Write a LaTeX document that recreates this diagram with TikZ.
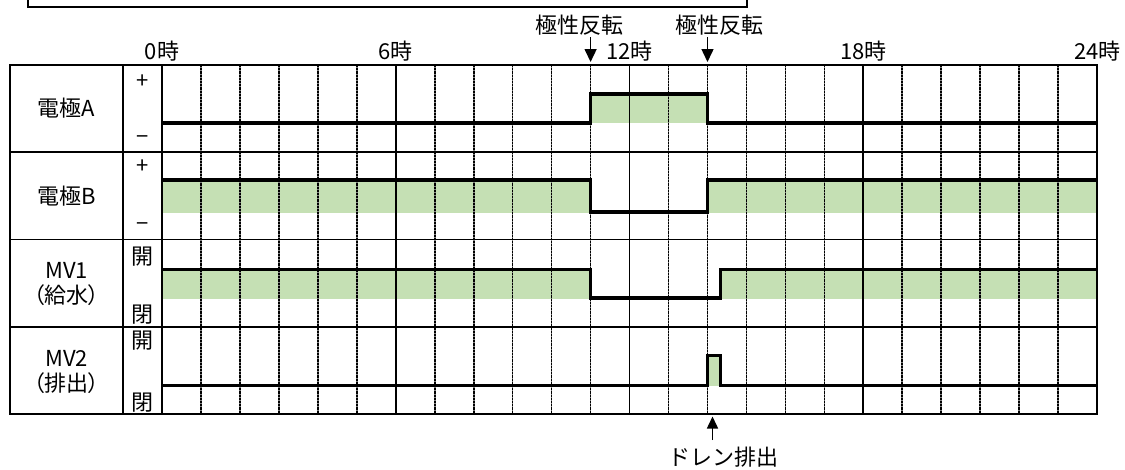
\documentclass[tikz,border=0pt]{standalone}
\usepackage{fontspec}
\setmainfont{Noto Sans CJK JP}
\newfontfamily\jpp[RawFeature=+palt]{Noto Sans CJK JP}
\usetikzlibrary{arrows.meta}
\definecolor{onfill}{HTML}{C5E0B4}
\begin{document}
\begin{tikzpicture}[x=1pt,y=-1pt,
  txt/.style={font=\fontsize{22}{25}\selectfont, inner sep=0pt, align=center},
  frame/.style={line width=1.8pt, line cap=rect},
  sig/.style={line width=3.6pt, line join=miter, line cap=butt},
  hourdash/.style={line width=1.7pt, dash pattern=on 2.2pt off 1pt},
  hourbase/.style={line width=1.7pt, black!50},
  hoursolid/.style={line width=1.8pt},
  onarea/.style={fill=onfill, draw=none},
  callout/.style={line width=1.5pt, -{Triangle[width=12pt,length=13pt]}},
]
\useasboundingbox (0,0) rectangle (1125,469);

% top box (partially visible)
\draw[line width=1.5pt] (28,-5) |- (747,7) -- (747,-5);

% green "on" areas
\path[onarea] (590.6,94) rectangle (707.5,123);
\path[onarea] (161.9,180) rectangle (590.6,212.5);
\path[onarea] (707.5,180) rectangle (1097.2,212.5);
\path[onarea] (161.9,269.5) rectangle (590.6,298.5);
\path[onarea] (720.3,269.5) rectangle (1097.2,298.5);
\path[onarea] (707.5,355.5) rectangle (720.3,385.5);

% hour grid lines
\foreach \h in {1,2,3,4,5,7,8,9,10,11,13,14,15,16,17,19,20,21,22,23}{
  \pgfmathsetmacro\xx{161.9+38.97*\h}
  \draw[hourbase] (\xx,65) -- (\xx,414);
  \draw[hourdash] (\xx,65) -- (\xx,414);
}
\foreach \h in {6,12,18}{
  \pgfmathsetmacro\xx{161.9+38.97*\h}
  \draw[hoursolid] (\xx,65) -- (\xx,414);
}

% signal lines
\draw[sig] (161.9,123) -- (590.6,123) -- (590.6,94) -- (707.5,94) -- (707.5,123) -- (1097.2,123);
\draw[sig] (161.9,180) -- (590.6,180) -- (590.6,212) -- (707.5,212) -- (707.5,180) -- (1097.2,180);
\draw[sig] (161.9,269.5) -- (590.6,269.5) -- (590.6,298) -- (720.3,298) -- (720.3,269.5) -- (1097.2,269.5);
\draw[sig] (161.9,385.5) -- (707.5,385.5) -- (707.5,355.5) -- (720.3,355.5) -- (720.3,385.5) -- (1097.2,385.5);

% table frame
\draw[frame] (10,65) rectangle (1097.2,414);
\draw[frame] (10,152.25) -- (1097.2,152.25);
\draw[frame] (10,239.5) -- (1097.2,239.5);
\draw[frame] (10,326.75) -- (1097.2,326.75);
\draw[frame] (123,65) -- (123,414);
\draw[frame] (161.9,65) -- (161.9,414);

% row labels
\node[txt] (lblA) at (66.5,108.6) {電極A};
\node[txt] (lblB) at (66.5,195.9) {電極B};
\node[txt] (lblMV1) at (66.5,284) {MV1\\{\jpp （給水）}};
\node[txt] (lblMV2) at (66.5,372) {MV2\\{\jpp （排出）}};

% level labels
\node[txt] (aplus) at (142.5,81.5) {+};
\node[txt] (aminus) at (142.5,140) {−};
\node[txt] (bplus) at (142.5,167) {+};
\node[txt] (bminus) at (142.5,227) {−};
\node[txt] (m1open) at (142.5,257) {開};
\node[txt] (m1close) at (142.5,315) {閉};
\node[txt] (m2open) at (142.5,341) {開};
\node[txt] (m2close) at (142.5,403) {閉};

% time labels
\node[txt] (t0) at (161.9,51) {0時};
\node[txt] (t6) at (395.7,51) {6時};
\node[txt] (t12) at (629.5,51) {12時};
\node[txt] (t18) at (863.4,51) {18時};
\node[txt] (t24) at (1097.2,51) {24時};

% polarity inversion callouts
\node[txt] (pol1) at (579,25) {極性反転};
\node[txt] (pol2) at (719,25) {極性反転};
\coordinate (p1s) at (590.6,37);
\coordinate (p1e) at (590.6,62);
\coordinate (p2s) at (707.5,37);
\coordinate (p2e) at (707.5,62);
\draw[callout] (p1s) -- (p1e);
\draw[callout] (p2s) -- (p2e);

% drain callout
\node[txt] (drain) at (723,457) {ドレン排出};
\coordinate (ds) at (712.5,440);
\coordinate (de) at (712.5,416.5);
\draw[line width=1.5pt, -{Triangle[width=11pt,length=12pt]}] (ds) -- (de);
\end{tikzpicture}
\end{document}
